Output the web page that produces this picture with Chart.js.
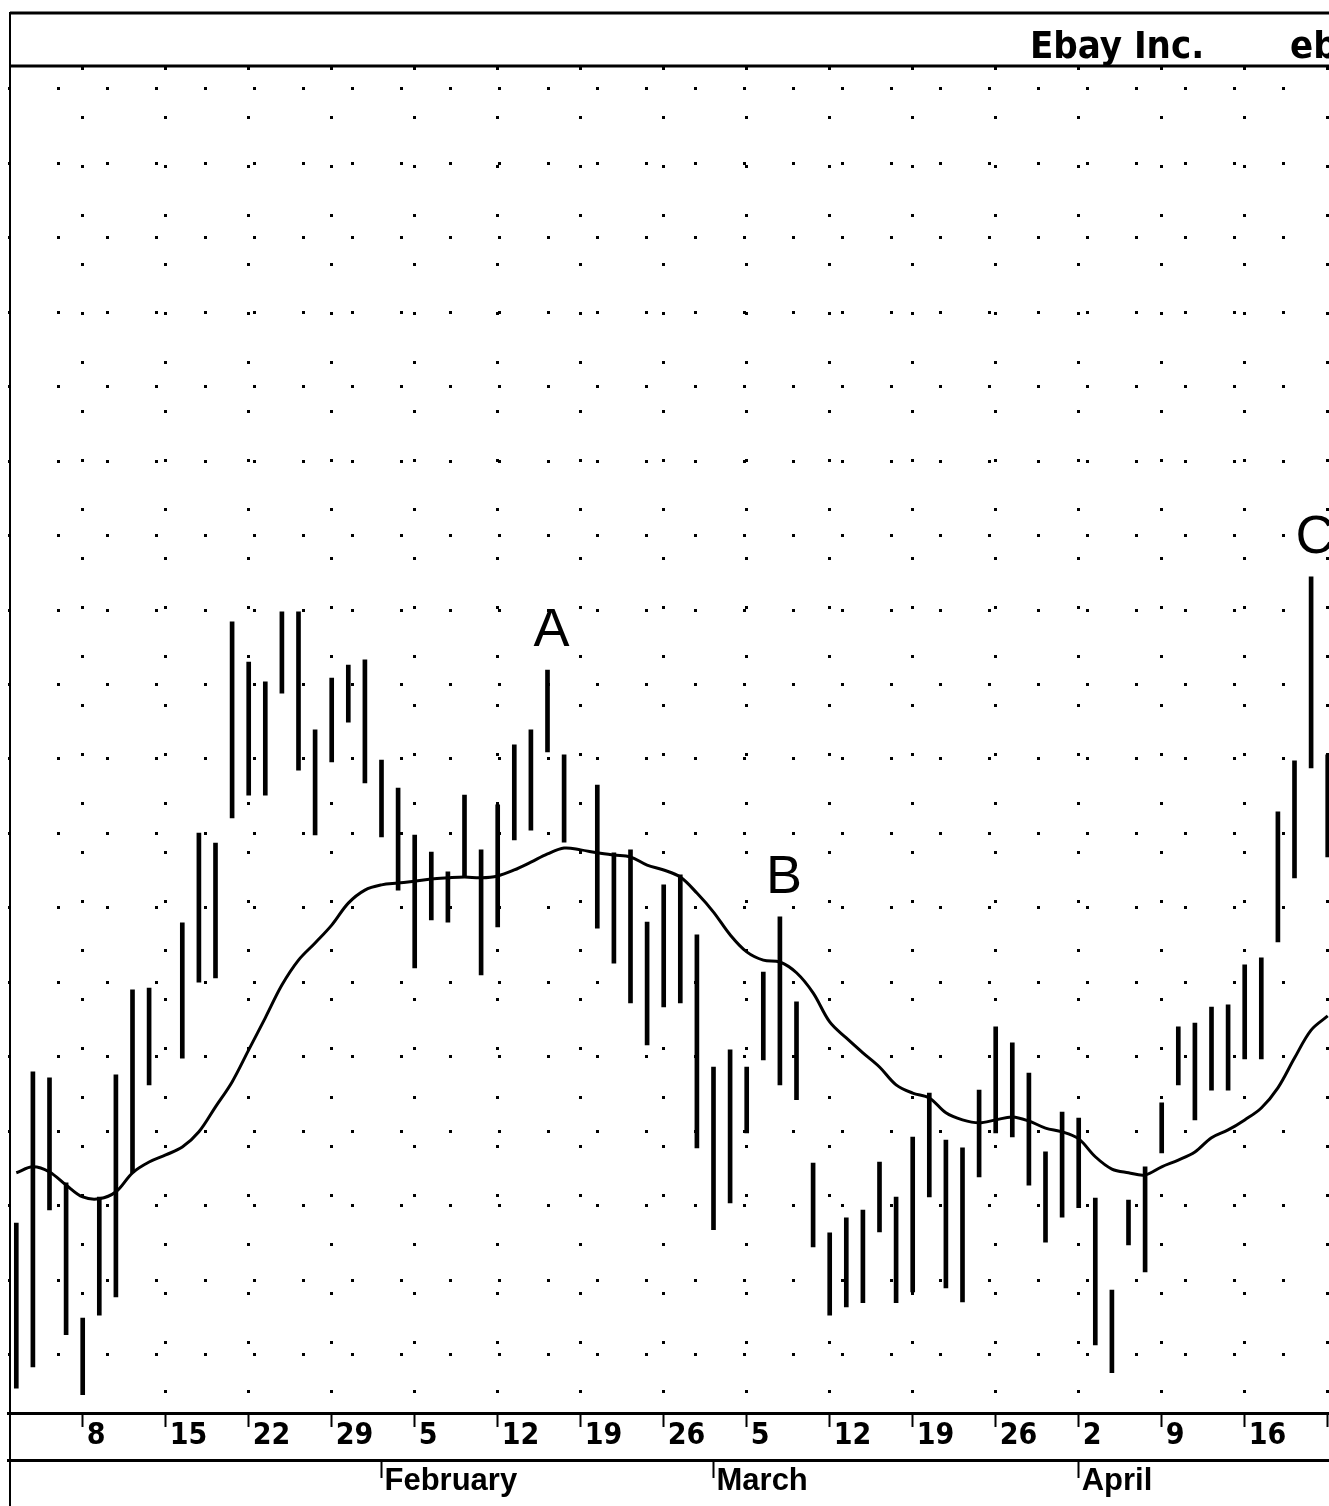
<!DOCTYPE html>
<html>
<head>
<meta charset="utf-8">
<title>Ebay Inc.</title>
<script src="https://cdn.jsdelivr.net/npm/chart.js@4.4.1/dist/chart.umd.min.js"></script>
<style>
  html, body { margin: 0; padding: 0; background: #fff; overflow: hidden; }
  #wrap { width: 1404px; height: 1506px; }
</style>
</head>
<body>
<div id="wrap"><canvas id="chart" width="1404" height="1506"></canvas></div>
<script>
// trading days, Jan 2 - Apr 27 2001 (holidays keep their slot, no bar)
const dates = [
  '1/2', '1/3', '1/4', '1/5',
  '1/8', '1/9', '1/10', '1/11', '1/12',
  '1/15', '1/16', '1/17', '1/18', '1/19',
  '1/22', '1/23', '1/24', '1/25', '1/26',
  '1/29', '1/30', '1/31', '2/1', '2/2',
  '2/5', '2/6', '2/7', '2/8', '2/9',
  '2/12', '2/13', '2/14', '2/15', '2/16',
  '2/19', '2/20', '2/21', '2/22', '2/23',
  '2/26', '2/27', '2/28', '3/1', '3/2',
  '3/5', '3/6', '3/7', '3/8', '3/9',
  '3/12', '3/13', '3/14', '3/15', '3/16',
  '3/19', '3/20', '3/21', '3/22', '3/23',
  '3/26', '3/27', '3/28', '3/29', '3/30',
  '4/2', '4/3', '4/4', '4/5', '4/6',
  '4/9', '4/10', '4/11', '4/12', '4/13',
  '4/16', '4/17', '4/18', '4/19', '4/20',
  '4/23', '4/24', '4/25', '4/26', '4/27'
];

const highs = [
  33.54, 37.60, 37.44, 34.62, 30.99, 34.24, 37.52, 39.80, 39.85, null,
  41.60, 44.01, 43.74, 49.68, 48.60, 48.07, 49.95, 49.95, 46.78, 48.17,
  48.52, 48.66, 45.97, 45.22, 43.96, 43.50, 42.97, 45.03, 43.56, 44.77,
  46.38, 46.78, 48.39, 46.11, null, 45.30, 43.48, 43.56, 41.62, 42.62,
  42.89, 41.28, 37.73, 38.19, 37.73, 40.28, 41.76, 39.48, 35.15, 33.28,
  33.68, 33.89, 35.18, 34.24, 35.85, 37.03, 35.77, 35.56, 37.11, 38.81,
  38.38, 37.57, 35.45, 36.52, 36.36, 34.21, 31.74, 34.16, 35.05, 36.77,
  38.81, 38.91, 39.34, 39.40, 40.47, 40.66, 44.58, 45.95, 50.89, 46.11
];

const lows = [
  29.11, 29.68, 33.89, 30.54, 28.93, 31.07, 31.56, 34.89, 37.25, null,
  37.97, 40.01, 40.12, 44.42, 45.03, 45.03, 47.77, 45.70, 43.96, 45.92,
  46.99, 45.36, 43.91, 42.48, 40.39, 41.68, 41.62, 42.83, 40.20, 41.49,
  43.83, 44.09, 46.19, 43.77, null, 41.46, 40.52, 39.45, 38.32, 39.34,
  39.45, 35.56, 33.36, 34.08, 35.96, 37.92, 37.25, 36.85, 32.90, 31.07,
  31.29, 31.40, 33.30, 31.40, 31.69, 34.24, 31.80, 31.42, 34.78, 35.96,
  35.85, 34.56, 33.03, 33.70, 33.95, 30.27, 29.52, 32.95, 32.23, 35.42,
  37.25, 36.31, 37.11, 37.11, 37.95, 37.95, 41.09, 42.81, 45.76, 43.37
];

const movingAvg = [
  34.89, 35.05, 34.91, 34.56, 34.24, 34.19, 34.38, 34.89, 35.18, 35.37,
  35.58, 35.99, 36.66, 37.33, 38.19, 39.05, 39.93, 40.60, 41.06, 41.54,
  42.13, 42.48, 42.62, 42.67, 42.72, 42.78, 42.81, 42.83, 42.81, 42.86,
  43.02, 43.23, 43.45, 43.61, 43.56, 43.48, 43.42, 43.37, 43.15, 43.02,
  42.83, 42.40, 41.89, 41.28, 40.82, 40.60, 40.55, 40.26, 39.72, 38.94,
  38.51, 38.11, 37.73, 37.25, 37.03, 36.90, 36.50, 36.31, 36.23, 36.31,
  36.39, 36.28, 36.09, 35.99, 35.80, 35.32, 34.99, 34.89, 34.83, 35.05,
  35.23, 35.45, 35.83, 36.04, 36.31, 36.63, 37.17, 37.97, 38.72, 39.10
];

const priceTicks = [30, 32, 34, 36, 38, 40, 42, 44, 46, 48, 50, 52, 54, 56, 58, 60, 62, 64];
const monthNames = ['January', 'February', 'March', 'April'];

// letters over the marked bars
const notes = [
  { text: 'A', at: 32 },
  { text: 'B', at: 46 },
  { text: 'C', at: 78 }
];

const narrow = '"Liberation Sans Narrow", "DejaVu Sans Condensed", "Liberation Sans", sans-serif';

function parts(i) {
  const p = dates[i].split('/');
  return { m: Number(p[0]), d: Number(p[1]) };
}
function isMonday(i) {
  if (i < 0 || i >= dates.length) return false;
  const p = parts(i);
  return new Date(2001, p.m - 1, p.d).getDay() === 1;
}
function isMonthStart(i) {
  return i > 0 && i < dates.length && parts(i).m !== parts(i - 1).m;
}

const framePlugin = {
  id: 'frame',
  afterDraw(chart) {
    const { ctx, chartArea } = chart;
    const x = chart.scales.x;
    const y = chart.scales.y;
    ctx.save();
    ctx.strokeStyle = '#000';

    // outer box and title band
    ctx.lineWidth = 3;
    ctx.beginPath();
    ctx.moveTo(chartArea.left + 2, 13);
    ctx.lineTo(chart.width, 13);
    ctx.moveTo(chartArea.left + 2, chartArea.top - 1);
    ctx.lineTo(chart.width, chartArea.top - 1);
    ctx.stroke();
    ctx.lineWidth = 2;
    ctx.beginPath();
    ctx.moveTo(chartArea.left + 2, 12);
    ctx.lineTo(chartArea.left + 2, chart.height);
    ctx.stroke();

    ctx.fillStyle = '#000';
    ctx.textBaseline = 'alphabetic';
    ctx.textAlign = 'left';
    ctx.font = 'bold 38px ' + narrow;
    ctx.fillText('Ebay Inc.', 1030, 58);
    ctx.fillText('ebay', 1290, 58);

    // A / B / C
    ctx.font = '54px "Liberation Sans", Arial, sans-serif';
    ctx.textAlign = 'center';
    notes.forEach(n => {
      const px = x.getPixelForValue(n.at) + 4;
      const py = y.getPixelForValue(highs[n.at]) - 24;
      ctx.fillText(n.text, px, py);
    });
    ctx.restore();
  }
};

new Chart('chart', {
  type: 'bar',
  data: {
    labels: dates,
    datasets: [
      {
        type: 'bar',
        data: highs.map((h, i) => h === null ? null : [lows[i], h]),
        backgroundColor: '#000',
        borderWidth: 0,
        barThickness: 4,
        xAxisID: 'x',
        yAxisID: 'y',
        order: 2
      },
      {
        type: 'line',
        data: movingAvg,
        borderColor: '#000',
        borderWidth: 3,
        pointRadius: 0,
        tension: 0.35,
        fill: false,
        xAxisID: 'x',
        yAxisID: 'y',
        order: 1
      }
    ]
  },
  options: {
    responsive: false,
    animation: false,
    devicePixelRatio: 1,
    layout: { padding: { top: 67, left: 8, right: 1.6, bottom: 0 } },
    plugins: {
      legend: { display: false },
      tooltip: { enabled: false }
    },
    scales: {
      y: {
        position: 'left',
        min: 28.44,
        max: 64.58,
        afterBuildTicks: s => { s.ticks = priceTicks.map(v => ({ value: v })); },
        afterFit: s => { s.width = 0; },
        ticks: { display: false },
        grid: { color: '#000', lineWidth: 3, drawTicks: false },
        border: { display: false, dash: [3, 46] }
      },
      x: {
        position: 'bottom',
        weight: 0,
        offset: true,
        afterFit: s => { s.height = 47; },
        grid: {
          offset: false,
          color: c => isMonday(c.index) ? '#000' : 'rgba(0,0,0,0)',
          lineWidth: 3,
          drawTicks: true,
          tickLength: 14,
          tickWidth: 2,
          tickColor: c => isMonday(c.index) ? '#000' : 'rgba(0,0,0,0)',
          tickBorderDash: []
        },
        border: { display: true, color: '#000', width: 3, dash: [3, 46] },
        ticks: {
          autoSkip: false,
          maxRotation: 0,
          minRotation: 0,
          align: 'start',
          labelOffset: 4,
          padding: -6,
          color: '#000',
          font: { family: narrow, size: 30, weight: 'bold', lineHeight: 1 },
          callback: (v, i) => isMonday(i) ? String(parts(i).d) : ''
        }
      },
      month: {
        type: 'category',
        position: 'bottom',
        weight: 1,
        offset: true,
        afterFit: s => { s.height = 46; },
        grid: {
          offset: false,
          drawOnChartArea: false,
          drawTicks: true,
          tickLength: 18,
          tickWidth: 2,
          tickColor: c => isMonthStart(c.index) ? '#000' : 'rgba(0,0,0,0)'
        },
        border: { display: true, color: '#000', width: 3 },
        ticks: {
          autoSkip: false,
          maxRotation: 0,
          minRotation: 0,
          align: 'start',
          labelOffset: 3,
          padding: -12,
          color: '#000',
          font: { family: '"Liberation Sans", Arial, sans-serif', size: 31, weight: 'bold', lineHeight: 1 },
          callback: (v, i) => isMonthStart(i) ? monthNames[parts(i).m - 1] : ''
        }
      }
    }
  },
  plugins: [framePlugin]
});
</script>
</body>
</html>
